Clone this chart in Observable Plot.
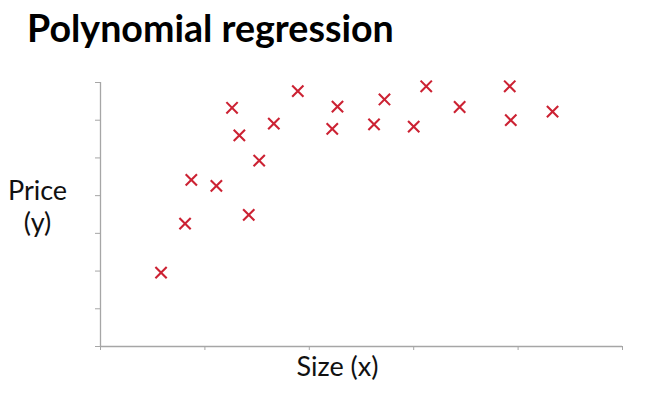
<!DOCTYPE html>
<html><head><meta charset="utf-8">
<script src="https://cdn.jsdelivr.net/npm/d3@7"></script>
<script src="https://cdn.jsdelivr.net/npm/@observablehq/plot@0.6"></script>
<style>
body{margin:0;background:#fff;}
#wrap{position:relative;width:666px;height:406px;overflow:hidden;background:#fff;}
#title{position:absolute;left:27px;top:9px;font:700 37.6px Lato, sans-serif;color:#000;white-space:nowrap;line-height:1;}
#chart{position:absolute;left:0;top:0;}
</style></head><body>
<div id="wrap"><div id="chart"></div><div id="title">Polynomial regression</div></div>
<script>
const sizes  = [0.58, 0.81, 0.87, 1.11, 1.26, 1.33, 1.42, 1.52, 1.66, 1.89, 2.22, 2.27, 2.62, 2.72, 3.00, 3.12, 3.44, 3.92, 3.93, 4.33];
const prices = [1.96, 3.26, 4.42, 4.26, 6.33, 5.60, 3.49, 4.93, 5.91, 6.77, 5.77, 6.36, 5.89, 6.55, 5.83, 6.90, 6.35, 6.90, 6.00, 6.23];
const xTicks = [0, 1, 2, 3, 4, 5];
const yTicks = [0, 1, 2, 3, 4, 5, 6, 7];
const data = sizes.map((x, i) => ({x, y: prices[i]}));
const axisColor = "#a6a6a6";
const plot = Plot.plot({
  width: 666, height: 406,
  marginLeft: 100, marginRight: 44, marginTop: 82, marginBottom: 60,
  style: {background: "transparent", fontFamily: "Lato, sans-serif", color: "#111"},
  x: {domain: [0, 5], axis: null},
  y: {domain: [0, 7], axis: null},
  marks: [
    Plot.axisX(xTicks, {tickSize: 4, tickFormat: () => "", stroke: axisColor, label: null}),
    Plot.axisY(yTicks, {tickSize: 5, tickFormat: () => "", stroke: axisColor, label: null}),
    Plot.ruleY([0], {stroke: axisColor, strokeWidth: 1.3}),
    Plot.ruleX([0], {stroke: axisColor, strokeWidth: 1.3}),
    Plot.dot(data, {x: "x", y: "y", symbol: "times", r: 5.2, stroke: "#cc2233", strokeWidth: 2.1}),
    Plot.text(["Price\n(y)"], {text: d => d, frameAnchor: "left", dx: -63, dy: -9, fontSize: 27, lineHeight: 1.18, textAnchor: "middle", fill: "#111"}),
    Plot.text(["Size (x)"], {text: d => d, frameAnchor: "bottom", dx: -24, dy: 10, lineAnchor: "top", fontSize: 27, textAnchor: "middle", fill: "#111"})
  ]
});
document.getElementById("chart").appendChild(plot);
</script>
</body></html>
